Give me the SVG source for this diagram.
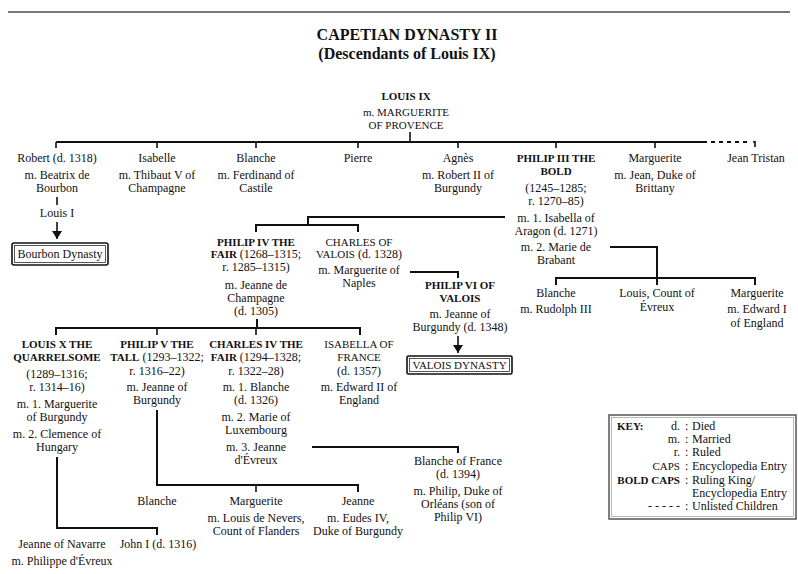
<svg xmlns="http://www.w3.org/2000/svg" width="798" height="574" viewBox="0 0 798 574">
  <style>
    text { font-family: "Liberation Serif", "Times New Roman", serif; fill: #111; }
    .t { font-size: 12px; text-anchor: middle; }
    .c { font-size: 11px; }
    .b { font-size: 11px; font-weight: bold; }
    .title { font-size: 16px; font-weight: bold; text-anchor: middle; }
    .k { font-size: 12px; }
    .ke { font-size: 12px; text-anchor: end; }
    .ln { fill: none; stroke: #111; stroke-width: 2; }
    .tk { fill: none; stroke: #111; stroke-width: 1.6; }
    .dash { fill: none; stroke: #111; stroke-width: 2; stroke-dasharray: 4 4; }
    .box1 { fill: #fff; stroke: #111; stroke-width: 1.6; }
    .box2 { fill: none; stroke: #111; stroke-width: 0.7; }
  </style>
  <defs>
    <!-- filled arrowhead, drawn along +x so orient="auto" follows the line -->
    <marker id="arrow" markerUnits="userSpaceOnUse" markerWidth="9" markerHeight="11" refX="8" refY="5" orient="auto" viewBox="0 0 9 10">
      <path d="M0,0 L8,5 L0,10 Z" fill="#111"/>
    </marker>
  </defs>

  <rect width="798" height="574" fill="#fff"/>
  <line x1="8" y1="12" x2="790" y2="12" stroke="#777" stroke-width="2"/>

  <g id="title">
    <text class="title" x="407" y="40">CAPETIAN DYNASTY II</text>
    <text class="title" x="407" y="59">(Descendants of Louis IX)</text>
  </g>

  <!-- connectors -->
  <g id="connectors">
    <path class="tk" d="M410,132 V142"/>
    <path class="ln" d="M56,142 H707" stroke-width="2.4"/>
    <path class="dash" d="M711,142 H751"/>
    <path class="tk" d="M755,141 V147 M753,142 H755"/>
    <path class="tk" d="M56,142 V148 M157,142 V148 M256,142 V148 M358,142 V148 M458,142 V148 M556,142 V148 M655,142 V148"/>
    <!-- Robert to Louis I to Bourbon -->
    <path class="tk" d="M57,197 V205"/>
    <path class="tk" d="M57,222 V239" marker-end="url(#arrow)"/>
    <!-- Philip III, first marriage -->
    <path class="ln" d="M505,217 H308 V225"/>
    <path class="ln" d="M256,232 V225 H358 V232"/>
    <!-- Philip III, second marriage -->
    <path class="ln" d="M610,247 H657 V285"/>
    <path class="ln" d="M556,285 V278 H755 V285"/>
    <!-- Charles of Valois to Philip VI -->
    <path class="ln" d="M410,272 H458 V278"/>
    <path class="tk" d="M458,336 V353" marker-end="url(#arrow)"/>
    <!-- Philip IV children -->
    <path class="ln" d="M257,319 V328" stroke-width="2.4"/>
    <path class="ln" d="M56,335 V328 H360 V335"/>
    <path class="tk" d="M157,328 V335 M256,328 V335"/>
    <!-- Louis X children -->
    <path class="ln" d="M57,457 V528 H157 V535"/>
    <!-- Philip V children -->
    <path class="ln" d="M157,410 V485 H358 V492"/>
    <path class="tk" d="M256,485 V492"/>
    <!-- Charles IV to Blanche of France -->
    <path class="ln" d="M312,447 H458 V453"/>
  </g>

  <g id="louis-ix">
    <text class="t b" x="406" y="100">LOUIS IX</text>
    <text class="t c" x="406" y="116">m. MARGUERITE</text>
    <text class="t c" x="406" y="129">OF PROVENCE</text>
  </g>

  <g id="robert">
    <text class="t" x="57" y="162">Robert (d. 1318)</text>
    <text class="t" x="57" y="179">m. Beatrix de</text>
    <text class="t" x="57" y="192">Bourbon</text>
  </g>
  <g id="louis-i">
    <text class="t" x="57" y="217">Louis I</text>
  </g>
  <g id="bourbon-dynasty">
    <rect class="box1" x="12" y="243" width="96" height="22" rx="2"/>
    <rect class="box2" x="14.5" y="245.5" width="91" height="17"/>
    <text class="t" x="60" y="258">Bourbon Dynasty</text>
  </g>

  <g id="isabelle">
    <text class="t" x="157" y="162">Isabelle</text>
    <text class="t" x="157" y="179">m. Thibaut V of</text>
    <text class="t" x="157" y="192">Champagne</text>
  </g>
  <g id="blanche-1">
    <text class="t" x="256" y="162">Blanche</text>
    <text class="t" x="256" y="179">m. Ferdinand of</text>
    <text class="t" x="256" y="192">Castile</text>
  </g>
  <g id="pierre">
    <text class="t" x="358" y="162">Pierre</text>
  </g>
  <g id="agnes">
    <text class="t" x="458" y="162">Agnès</text>
    <text class="t" x="458" y="179">m. Robert II of</text>
    <text class="t" x="458" y="192">Burgundy</text>
  </g>
  <g id="philip-iii">
    <text class="t b" x="556" y="162">PHILIP III THE</text>
    <text class="t b" x="556" y="175">BOLD</text>
    <text class="t" x="556" y="192">(1245–1285;</text>
    <text class="t" x="556" y="205">r. 1270–85)</text>
    <text class="t" x="556" y="222">m. 1. Isabella of</text>
    <text class="t" x="556" y="235">Aragon (d. 1271)</text>
    <text class="t" x="556" y="251">m. 2. Marie de</text>
    <text class="t" x="556" y="264">Brabant</text>
  </g>
  <g id="marguerite-1">
    <text class="t" x="655" y="162">Marguerite</text>
    <text class="t" x="655" y="179">m. Jean, Duke of</text>
    <text class="t" x="655" y="192">Brittany</text>
  </g>
  <g id="jean-tristan">
    <text class="t" x="756" y="162">Jean Tristan</text>
  </g>

  <g id="philip-iv">
    <text class="t b" x="256" y="246">PHILIP IV THE</text>
    <text class="t" x="256" y="258"><tspan class="b">FAIR</tspan> (1268–1315;</text>
    <text class="t" x="256" y="271">r. 1285–1315)</text>
    <text class="t" x="256" y="289">m. Jeanne de</text>
    <text class="t" x="256" y="302">Champagne</text>
    <text class="t" x="256" y="315">(d. 1305)</text>
  </g>
  <g id="charles-of-valois">
    <text class="t c" x="359" y="246">CHARLES OF</text>
    <text class="t" x="359" y="258"><tspan class="c">VALOIS</tspan> (d. 1328)</text>
    <text class="t" x="359" y="274">m. Marguerite of</text>
    <text class="t" x="359" y="287">Naples</text>
  </g>
  <g id="philip-vi">
    <text class="t b" x="460" y="289">PHILIP VI OF</text>
    <text class="t b" x="460" y="302">VALOIS</text>
    <text class="t" x="460" y="318">m. Jeanne of</text>
    <text class="t" x="460" y="331">Burgundy (d. 1348)</text>
  </g>
  <g id="valois-dynasty">
    <rect class="box1" x="407" y="356" width="105" height="18" rx="1.5"/>
    <rect class="box2" x="409.5" y="358.5" width="100" height="13"/>
    <text class="t c" x="459.5" y="369">VALOIS DYNASTY</text>
  </g>

  <g id="blanche-2">
    <text class="t" x="556" y="297">Blanche</text>
    <text class="t" x="556" y="313">m. Rudolph III</text>
  </g>
  <g id="louis-evreux">
    <text class="t" x="657" y="297">Louis, Count of</text>
    <text class="t" x="657" y="311">Évreux</text>
  </g>
  <g id="marguerite-2">
    <text class="t" x="757" y="297">Marguerite</text>
    <text class="t" x="757" y="313">m. Edward I</text>
    <text class="t" x="757" y="327">of England</text>
  </g>

  <g id="louis-x">
    <text class="t b" x="57" y="348">LOUIS X THE</text>
    <text class="t b" x="57" y="361">QUARRELSOME</text>
    <text class="t" x="57" y="378">(1289–1316;</text>
    <text class="t" x="57" y="391">r. 1314–16)</text>
    <text class="t" x="57" y="408">m. 1. Marguerite</text>
    <text class="t" x="57" y="421">of Burgundy</text>
    <text class="t" x="57" y="438">m. 2. Clemence of</text>
    <text class="t" x="57" y="451">Hungary</text>
  </g>
  <g id="philip-v">
    <text class="t b" x="157" y="348">PHILIP V THE</text>
    <text class="t" x="157" y="361"><tspan class="b">TALL</tspan> (1293–1322;</text>
    <text class="t" x="157" y="375">r. 1316–22)</text>
    <text class="t" x="157" y="391">m. Jeanne of</text>
    <text class="t" x="157" y="404">Burgundy</text>
  </g>
  <g id="charles-iv">
    <text class="t b" x="256" y="348">CHARLES IV THE</text>
    <text class="t" x="256" y="361"><tspan class="b">FAIR</tspan> (1294–1328;</text>
    <text class="t" x="256" y="375">r. 1322–28)</text>
    <text class="t" x="256" y="391">m. 1. Blanche</text>
    <text class="t" x="256" y="404">(d. 1326)</text>
    <text class="t" x="256" y="421">m. 2. Marie of</text>
    <text class="t" x="256" y="434">Luxembourg</text>
    <text class="t" x="256" y="451">m. 3. Jeanne</text>
    <text class="t" x="256" y="464">d'Évreux</text>
  </g>
  <g id="isabella-of-france">
    <text class="t c" x="359" y="348">ISABELLA OF</text>
    <text class="t c" x="359" y="361">FRANCE</text>
    <text class="t" x="359" y="375">(d. 1357)</text>
    <text class="t" x="359" y="391">m. Edward II of</text>
    <text class="t" x="359" y="404">England</text>
  </g>

  <g id="blanche-of-france">
    <text class="t" x="458" y="465">Blanche of France</text>
    <text class="t" x="458" y="478">(d. 1394)</text>
    <text class="t" x="458" y="495">m. Philip, Duke of</text>
    <text class="t" x="458" y="508">Orléans (son of</text>
    <text class="t" x="458" y="521">Philip VI)</text>
  </g>

  <g id="blanche-3">
    <text class="t" x="157" y="505">Blanche</text>
  </g>
  <g id="marguerite-3">
    <text class="t" x="256" y="505">Marguerite</text>
    <text class="t" x="256" y="522">m. Louis de Nevers,</text>
    <text class="t" x="256" y="535">Count of Flanders</text>
  </g>
  <g id="jeanne">
    <text class="t" x="358" y="505">Jeanne</text>
    <text class="t" x="358" y="522">m. Eudes IV,</text>
    <text class="t" x="358" y="535">Duke of Burgundy</text>
  </g>

  <g id="jeanne-of-navarre">
    <text class="t" x="62" y="548">Jeanne of Navarre</text>
    <text class="t" x="62" y="565">m. Philippe d'Évreux</text>
  </g>
  <g id="john-i">
    <text class="t" x="158" y="548">John I (d. 1316)</text>
  </g>

  <g id="key">
    <rect x="609" y="415" width="187" height="104" fill="#fff" stroke="#555" stroke-width="1.5"/>
    <rect x="611.5" y="417.5" width="182" height="99" fill="none" stroke="#999" stroke-width="0.7"/>
    <text class="b" x="617" y="430">KEY:</text>
    <text class="ke" x="680" y="430">d.</text>
    <text class="ke" x="680" y="443">m.</text>
    <text class="ke" x="680" y="456">r.</text>
    <text class="ke" x="680" y="470"><tspan class="c">CAPS</tspan></text>
    <text class="ke" x="680" y="484"><tspan class="b">BOLD CAPS</tspan></text>
    <text class="ke" x="680" y="510">- - - - -</text>
    <text class="k" x="685" y="430">:</text>
    <text class="k" x="685" y="443">:</text>
    <text class="k" x="685" y="456">:</text>
    <text class="k" x="685" y="470">:</text>
    <text class="k" x="685" y="484">:</text>
    <text class="k" x="685" y="510">:</text>
    <text class="k" x="692" y="430">Died</text>
    <text class="k" x="692" y="443">Married</text>
    <text class="k" x="692" y="456">Ruled</text>
    <text class="k" x="692" y="470">Encyclopedia Entry</text>
    <text class="k" x="692" y="484">Ruling King/</text>
    <text class="k" x="692" y="497">Encyclopedia Entry</text>
    <text class="k" x="692" y="510">Unlisted Children</text>
  </g>
</svg>
